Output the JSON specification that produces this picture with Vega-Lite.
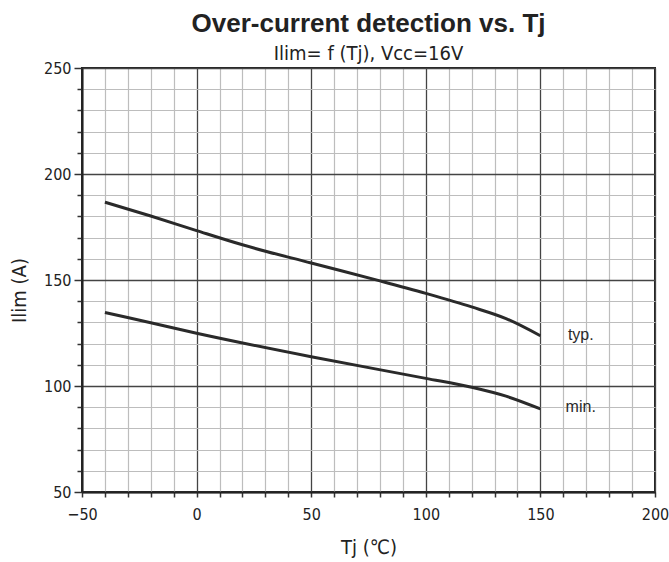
{
  "$schema": "https://vega.github.io/schema/vega-lite/v6.json",
  "autosize": {"type": "none"},
  "width": 573,
  "height": 424,
  "padding": {"left": 82, "top": 68, "right": 14, "bottom": 70},
  "background": "white",
  "title": {
    "text": "Over-current detection vs. Tj",
    "subtitle": "Ilim= f (Tj), Vcc=16V",
    "anchor": "middle",
    "font": "Liberation Sans",
    "fontSize": 26,
    "fontWeight": "bold",
    "color": "#222",
    "subtitleFont": "DejaVu Sans Condensed",
    "subtitleFontSize": 20,
    "subtitleColor": "#222",
    "subtitlePadding": 7,
    "offset": -4
  },
  "config": {
    "view": {"stroke": "#222", "strokeWidth": 2},
    "axis": {
      "labelFont": "DejaVu Sans Condensed",
      "labelFontSize": 16,
      "labelColor": "#222",
      "titleFont": "DejaVu Sans Condensed",
      "titleFontSize": 20,
      "titleFontWeight": "normal",
      "titleColor": "#222",
      "domainColor": "#222",
      "domainWidth": 2,
      "tickColor": "#333",
      "tickCount": 100
    }
  },
  "datasets": {
    "curves": [
      {"series": "typ", "Tj": -40, "Ilim": 186.7},
      {"series": "typ", "Tj": -20, "Ilim": 180.2},
      {"series": "typ", "Tj": 0, "Ilim": 173.3},
      {"series": "typ", "Tj": 20, "Ilim": 166.6},
      {"series": "typ", "Tj": 50, "Ilim": 158},
      {"series": "typ", "Tj": 80, "Ilim": 149.6},
      {"series": "typ", "Tj": 100, "Ilim": 143.7},
      {"series": "typ", "Tj": 120, "Ilim": 137.3},
      {"series": "typ", "Tj": 135, "Ilim": 131.8},
      {"series": "typ", "Tj": 150, "Ilim": 123.7},
      {"series": "min", "Tj": -40, "Ilim": 134.7},
      {"series": "min", "Tj": -20, "Ilim": 129.8},
      {"series": "min", "Tj": 0, "Ilim": 124.9},
      {"series": "min", "Tj": 50, "Ilim": 113.8},
      {"series": "min", "Tj": 100, "Ilim": 103.6},
      {"series": "min", "Tj": 120, "Ilim": 99.4},
      {"series": "min", "Tj": 135, "Ilim": 95.2},
      {"series": "min", "Tj": 150, "Ilim": 89.2}
    ],
    "labels": [
      {"label": "typ.", "Tj": 162, "Ilim": 124},
      {"label": "min.", "Tj": 161, "Ilim": 90}
    ]
  },
  "layer": [
    {
      "data": {"name": "curves"},
      "mark": {"type": "line", "color": "#2a2a2a", "strokeWidth": 3, "interpolate": "monotone"},
      "encoding": {
        "x": {
          "field": "Tj", "type": "quantitative",
          "scale": {"domain": [-50, 200], "nice": false},
          "axis": {
            "title": "Tj (℃)",
            "titlePadding": 15,
            "values": [-50,-40,-30,-20,-10,0,10,20,30,40,50,60,70,80,90,100,110,120,130,140,150,160,170,180,190,200],
            "tickCount": 100,
            "labelExpr": "datum.value % 50 === 0 ? datum.label : ''",
            "labelOverlap": false,
            "labelFlush": false,
            "labelPadding": 9,
            "tickSize": 5,
            "tickWidth": 1.5,
            "grid": true,
            "gridColor": {"condition": {"test": "datum.value % 50 === 0", "value": "#444"}, "value": "#bdbdbd"},
            "gridWidth": {"condition": {"test": "datum.value % 50 === 0", "value": 1.3}, "value": 1.2}
          }
        },
        "y": {
          "field": "Ilim", "type": "quantitative",
          "scale": {"domain": [50, 250], "nice": false},
          "axis": {
            "title": "Ilim (A)",
            "titlePadding": 14,
            "titleY": 222,
            "values": [50,60,70,80,90,100,110,120,130,140,150,160,170,180,190,200,210,220,230,240,250],
            "tickCount": 100,
            "labelExpr": "datum.value % 50 === 0 ? datum.label : ''",
            "labelOverlap": false,
            "labelFlush": false,
            "labelPadding": 3,
            "tickSize": {"condition": {"test": "datum.value % 50 === 0", "value": 8}, "value": 5},
            "tickWidth": 1.5,
            "grid": true,
            "gridColor": {"condition": {"test": "datum.value % 50 === 0", "value": "#444"}, "value": "#bdbdbd"},
            "gridWidth": {"condition": {"test": "datum.value % 50 === 0", "value": 1.3}, "value": 1.2}
          }
        },
        "detail": {"field": "series", "type": "nominal"}
      }
    },
    {
      "data": {"name": "labels"},
      "mark": {"type": "text", "align": "left", "baseline": "middle", "font": "Liberation Sans", "fontSize": 16, "color": "#2a2a2a"},
      "encoding": {
        "x": {"field": "Tj", "type": "quantitative"},
        "y": {"field": "Ilim", "type": "quantitative"},
        "text": {"field": "label"}
      }
    }
  ]
}
